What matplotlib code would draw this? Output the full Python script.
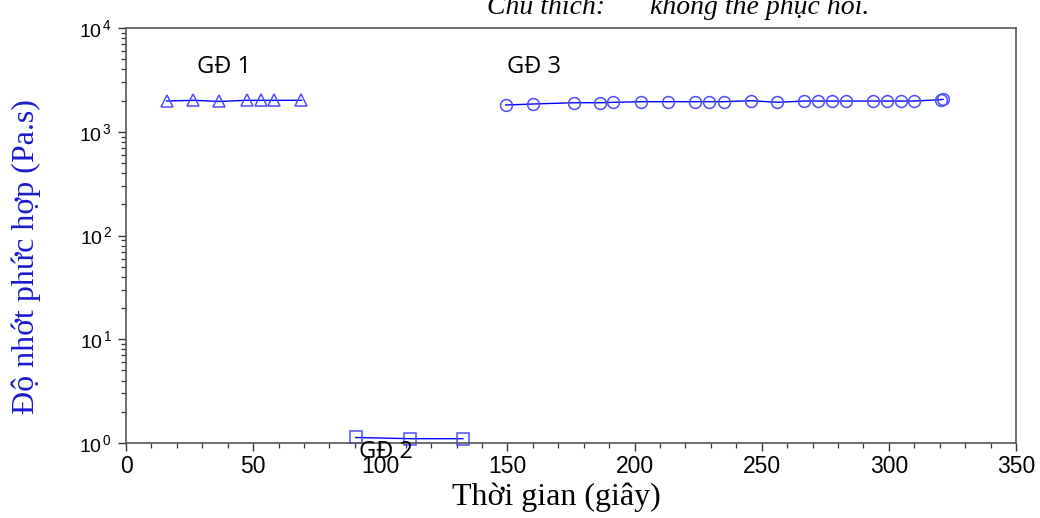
import matplotlib
matplotlib.use('Agg')
import matplotlib.pyplot as plt
from matplotlib.ticker import MultipleLocator, LogLocator, NullFormatter, FuncFormatter
import numpy as np

# Giai đoạn 1 (tam giác)
t_gd1 = [16.0, 26.4, 36.7, 47.4, 53.1, 58.2, 69.0]
eta_gd1 = [1980, 2010, 1960, 2010, 2010, 2010, 2010]

# Giai đoạn 2 (vuông)
t_gd2 = [90.3, 111.8, 132.5]
eta_gd2 = [1.13, 1.10, 1.10]

# Giai đoạn 3 (tròn)
t_gd3 = [149.3, 160.0, 176.1, 186.5, 191.7, 202.6, 213.2, 223.8, 229.4, 235.0,
         245.8, 256.2, 266.7, 272.2, 277.6, 283.1, 293.8, 299.4, 304.8, 309.9,
         320.5, 321.3]
eta_gd3 = [1811, 1851, 1905, 1905, 1922, 1950, 1950, 1950, 1950, 1950,
           1993, 1922, 1978, 1978, 1978, 1978, 1978, 1978, 1978, 1978,
           2040, 2055]

stage_labels = ['GĐ 1', 'GĐ 2', 'GĐ 3']
stage_label_pos = [(38.5, 4200), (102.3, 0.81), (160.6, 4200)]

xticks = [0, 50, 100, 150, 200, 250, 300, 350]


def pow10(v, pos=None):
    e = int(round(np.log10(v)))
    return f'10$^{{\\,{e}}}$'


plt.rcParams['mathtext.fontset'] = 'custom'
plt.rcParams['mathtext.rm'] = 'Liberation Sans'
plt.rcParams['mathtext.it'] = 'Liberation Sans'
plt.rcParams['mathtext.default'] = 'regular'

fig = plt.figure(figsize=(10.4, 5.18), dpi=100)
ax = fig.add_axes([0.1212, 0.1448, 0.8557, 0.8011])

line_c = '#0000ff'
mark_c = '#4d4dff'
style = dict(color=line_c, lw=1.0, mfc='none', mec=mark_c, mew=1.1)
ax.plot(t_gd1, eta_gd1, marker='^', ms=8.5, **style)
ax.plot(t_gd2, eta_gd2, marker='s', ms=8, clip_on=False, **style)
ax.plot(t_gd3, eta_gd3, marker='o', ms=8.5, **style)

ax.set_yscale('log')
ax.set_ylim(1, 1e4)
ax.set_xlim(0, 350)
ax.set_xticks(xticks)
ax.xaxis.set_minor_locator(MultipleLocator(10))
ax.yaxis.set_major_locator(LogLocator(base=10, numticks=10))
ax.yaxis.set_major_formatter(FuncFormatter(pow10))
ax.yaxis.set_minor_locator(LogLocator(base=10, subs=range(2, 10), numticks=10))
ax.yaxis.set_minor_formatter(NullFormatter())

for s in ax.spines.values():
    s.set_color('#555555')
    s.set_linewidth(1.2)

ax.tick_params(which='both', direction='out', color='#333333', top=False, right=False)
ax.tick_params(which='major', length=6, width=1.0)
ax.tick_params(which='minor', length=3.5, width=0.9)
ax.tick_params(axis='x', labelsize=16.5, pad=3)
ax.tick_params(axis='y', labelsize=14, pad=4)
for lab in ax.get_xticklabels() + ax.get_yticklabels():
    lab.set_family('Liberation Sans')

for txt, (x, y) in zip(stage_labels, stage_label_pos):
    ax.text(x, y, txt, ha='center', va='center', fontsize=17,
            family='Open Sans', color='black')

fig.text(556 / 1040, 1 - 497 / 518, 'Thời gian (giây)', ha='center', va='center',
         fontsize=23, family='Liberation Serif', color='black')
fig.text(26 / 1040, 1 - 257 / 518, 'Độ nhớt phức hợp (Pa.s)', ha='center',
         va='center', rotation=90, fontsize=23, family='Liberation Serif',
         color='#1a1acc')

# chú thích bị cắt ở mép trên
fig.text(487 / 1040, 1 - 14 / 518, 'Chú thích:', ha='left', va='baseline',
         fontsize=20, style='italic', family='Liberation Serif')
fig.text(650 / 1040, 1 - 14 / 518, 'không thể phục hồi.', ha='left', va='baseline',
         fontsize=20, style='italic', family='Liberation Serif')

fig.savefig('out.png', dpi=100)
